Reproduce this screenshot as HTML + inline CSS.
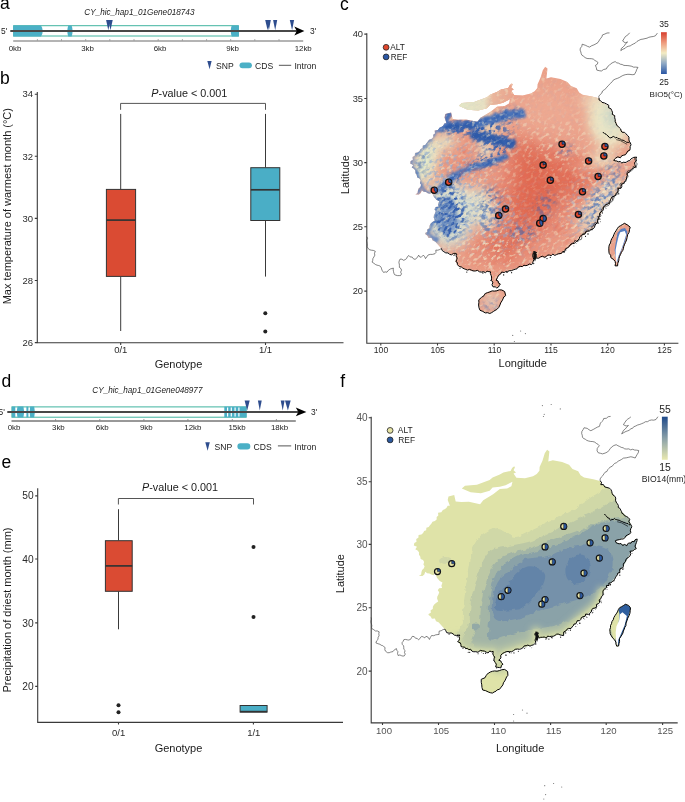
<!DOCTYPE html>
<html><head><meta charset="utf-8">
<style>
html,body{margin:0;padding:0;background:#fff;}
body{width:685px;height:802px;overflow:hidden;}
svg{display:block;font-family:"Liberation Sans",sans-serif;will-change:transform;}
.pl{font-size:17.5px;fill:#000;}
.tk{font-size:9.5px;fill:#2b2b2b;}
.ti{font-size:11px;fill:#1a1a1a;}
.gk{font-size:7.9px;fill:#222;}
.lg{font-size:8.6px;fill:#222;}
.ax{stroke:#3a3a3a;stroke-width:1.1;fill:none;}
</style></head>
<body>
<svg id="fig" width="685" height="802" viewBox="0 0 685 802">
<!-- ============ PANEL A ============ -->
<text class="pl" x="0" y="9.3">a</text>
<text x="84.3" y="15.3" style="font-size:8.2px;font-style:italic;fill:#222">CY_hic_hap1_01Gene018743</text>
<g id="geneA">
<rect x="13.7" y="25.7" width="224.6" height="10.3" fill="none" stroke="#40b4a0" stroke-width="1"/>
<path d="M13.2 25.6 H41 Q44.5 31 41 36.4 H13.2 Z" fill="#4bb0c6"/>
<path d="M68.3 25.6 H71.6 Q73.6 31 71.6 36.4 H68.3 Q66.3 31 68.3 25.6 Z" fill="#4bb0c6"/>
<path d="M231.7 25.6 H238.8 V36.4 H231.7 Q229.8 31 231.7 25.6 Z" fill="#4bb0c6"/>
<line x1="10.3" y1="31" x2="297" y2="31" stroke="#484848" stroke-width="1.8"/>
<path d="M294.3 26.6 L304.4 31 L294.3 35.6 L296.8 31 Z" fill="#000"/>
<g fill="#2e4d8e">
<path d="M106.1 20 H110.5 L108.3 30.2 Z"/><path d="M108.3 20 H112.7 L110.5 30.2 Z"/>
<path d="M265.2 20 H269.6 L267.6 30.2 Z"/><path d="M266.5 20 H270.8 L268.9 30.2 Z"/>
<path d="M273.1 20 H277.2 L275.2 30.2 Z"/>
<path d="M289.8 20 H294.1 L292.1 30.2 Z"/>
</g>
<text x="1" y="34" style="font-size:8.4px;fill:#222">5'</text>
<text x="310" y="34" style="font-size:8.4px;fill:#222">3'</text>
<line x1="13.2" y1="41" x2="303.2" y2="41" stroke="#6a6a6a" stroke-width="1.2"/>
<g stroke="#9a9a9a" stroke-width="0.8">
<line x1="37.4" y1="39" x2="37.4" y2="41"/><line x1="61.5" y1="39" x2="61.5" y2="41"/><line x1="85.7" y1="39" x2="85.7" y2="41"/>
<line x1="109.8" y1="39" x2="109.8" y2="41"/><line x1="134" y1="39" x2="134" y2="41"/><line x1="158.2" y1="39" x2="158.2" y2="41"/>
<line x1="182.4" y1="39" x2="182.4" y2="41"/><line x1="206.6" y1="39" x2="206.6" y2="41"/><line x1="230.7" y1="39" x2="230.7" y2="41"/>
<line x1="254.8" y1="39" x2="254.8" y2="41"/><line x1="279" y1="39" x2="279" y2="41"/>
</g>
<g class="gk" text-anchor="middle">
<text x="15" y="50.6">0kb</text><text x="87.5" y="50.6">3kb</text><text x="160" y="50.6">6kb</text><text x="232.6" y="50.6">9kb</text><text x="303.2" y="50.6">12kb</text>
</g>
<path d="M207.3 61 H211.6 L209.6 69.3 Z" fill="#2e4d8e"/>
<text class="lg" x="216" y="68.6">SNP</text>
<rect x="239.5" y="62.4" width="12.4" height="5.8" rx="2.9" fill="#4bb0c6"/>
<text class="lg" x="255" y="68.6">CDS</text>
<line x1="278.9" y1="65.3" x2="291.2" y2="65.3" stroke="#555" stroke-width="1"/>
<text class="lg" x="294.4" y="68.6">Intron</text>
</g>

<!-- ============ PANEL B ============ -->
<text class="pl" x="0" y="83.5">b</text>
<g class="ax">
<path d="M37.3 92 V342.7 H343.5"/>
<path d="M34.8 94.2 H37.3 M34.8 156.3 H37.3 M34.8 218.4 H37.3 M34.8 280.5 H37.3 M34.8 342.6 H37.3"/>
<path d="M120.7 342.7 V345 M265.5 342.7 V345"/>
</g>
<g class="tk" text-anchor="end">
<text x="33" y="97.4">34</text><text x="33" y="159.5">32</text><text x="33" y="221.6">30</text><text x="33" y="283.7">28</text><text x="33" y="345.8">26</text>
</g>
<text class="ti" transform="translate(10.6,206.2) rotate(-90)" text-anchor="middle">Max temperature of warmest month (°C)</text>
<text x="189.3" y="96.9" text-anchor="middle" style="font-size:10.8px;fill:#1a1a1a"><tspan font-style="italic">P</tspan>-value &lt; 0.001</text>
<path d="M120.6 109.8 V103.4 H265.5 V109.8" stroke="#555" stroke-width="1" fill="none"/>
<g stroke="#3a3a3a" stroke-width="1">
<line x1="120.7" y1="113.9" x2="120.7" y2="189.2"/><line x1="120.7" y1="276.6" x2="120.7" y2="331"/>
<line x1="265.5" y1="113.9" x2="265.5" y2="167.5"/><line x1="265.5" y1="220.6" x2="265.5" y2="276.6"/>
</g>
<rect x="106.4" y="189.4" width="29.2" height="87" fill="#da4b33" stroke="#333" stroke-width="1"/>
<line x1="106.4" y1="220.1" x2="135.6" y2="220.1" stroke="#333" stroke-width="1.7"/>
<rect x="250.8" y="167.7" width="29" height="52.8" fill="#4aaec6" stroke="#333" stroke-width="1"/>
<line x1="250.8" y1="189.8" x2="279.8" y2="189.8" stroke="#333" stroke-width="1.7"/>
<circle cx="265.3" cy="313.3" r="2" fill="#222"/><circle cx="265.3" cy="331.4" r="2" fill="#222"/>
<g class="tk" text-anchor="middle"><text x="120.8" y="353">0/1</text><text x="265.5" y="353">1/1</text></g>
<text class="ti" x="178.5" y="368" text-anchor="middle">Genotype</text>

<!-- ============ PANEL D ============ -->
<text class="pl" x="1.5" y="387">d</text>
<text x="92.3" y="393.4" style="font-size:8.2px;font-style:italic;fill:#222">CY_hic_hap1_01Gene048977</text>
<g id="geneD">
<rect x="11.9" y="406.9" width="234.2" height="10.3" fill="none" stroke="#40b4a0" stroke-width="1"/>
<g fill="#4bb0c6">
<path d="M12 406.6 H15.3 V417.4 H12 Z"/>
<path d="M17.5 406.6 H23.4 Q25 412 23.4 417.4 H17.5 Q15.8 412 17.5 406.6 Z"/>
<path d="M26.4 406.6 H28.4 V417.4 H26.4 Z"/>
<path d="M30.2 406.6 H34.2 Q35.6 412 34.2 417.4 H30.2 Q29 412 30.2 406.6 Z"/>
<path d="M224.3 406.6 H246.5 V417.4 H224.3 Z"/>
</g>
<g stroke="#fff" stroke-width="1.2">
<line x1="227.6" y1="407.4" x2="227.6" y2="416.6"/><line x1="231.3" y1="407.4" x2="231.3" y2="416.6"/><line x1="235.1" y1="407.4" x2="235.1" y2="416.6"/><line x1="238.9" y1="407.4" x2="238.9" y2="416.6"/>
</g>
<line x1="7.3" y1="412" x2="298" y2="412" stroke="#484848" stroke-width="1.8"/>
<path d="M295.8 407.5 L306.4 412 L295.8 416.3 L298.3 412 Z" fill="#000"/>
<g fill="#2e4d8e">
<path d="M244.6 400.4 H249.7 L247.2 410.4 Z"/>
<path d="M257.9 400.4 H261.7 L259.8 410.4 Z"/>
<path d="M280.7 400.4 H284.6 L282.7 410.4 Z"/>
<path d="M285 400.4 H290.7 L287.9 410.4 Z"/>
</g>
<text x="-1.5" y="415" style="font-size:8.4px;fill:#222">5'</text>
<text x="311" y="415" style="font-size:8.4px;fill:#222">3'</text>
<line x1="11.5" y1="421" x2="295.8" y2="421" stroke="#333" stroke-width="1"/>
<g stroke="#888" stroke-width="0.8">
<line x1="55.6" y1="419" x2="55.6" y2="421"/><line x1="99.8" y1="419" x2="99.8" y2="421"/><line x1="143.9" y1="419" x2="143.9" y2="421"/>
<line x1="187.9" y1="419" x2="187.9" y2="421"/><line x1="232.3" y1="419" x2="232.3" y2="421"/><line x1="276.4" y1="419" x2="276.4" y2="421"/>
</g>
<g class="gk" text-anchor="middle">
<text x="14" y="430.2">0kb</text><text x="58.4" y="430.2">3kb</text><text x="102.2" y="430.2">6kb</text><text x="146.3" y="430.2">9kb</text><text x="192.9" y="430.2">12kb</text><text x="237" y="430.2">15kb</text><text x="279.5" y="430.2">18kb</text>
</g>
<path d="M205.3 442.3 H209.8 L207.6 450.8 Z" fill="#2e4d8e"/>
<text class="lg" x="214.5" y="449.6">SNP</text>
<rect x="237.4" y="443.3" width="12.9" height="6.1" rx="3" fill="#4bb0c6"/>
<text class="lg" x="253.5" y="449.6">CDS</text>
<line x1="277.9" y1="445.9" x2="291.2" y2="445.9" stroke="#555" stroke-width="1"/>
<text class="lg" x="294.3" y="449.6">Intron</text>
</g>

<!-- ============ PANEL E ============ -->
<text class="pl" x="1.5" y="468">e</text>
<g class="ax">
<path d="M37.7 488.2 V722.4 H343"/>
<path d="M35.2 495.9 H37.7 M35.2 559 H37.7 M35.2 622.9 H37.7 M35.2 686.4 H37.7"/>
<path d="M118.5 722.4 V724.6 M253.4 722.4 V724.6"/>
</g>
<g class="tk" text-anchor="end" style="font-size:10.2px">
<text x="33.6" y="499.4">50</text><text x="33.6" y="562.6">40</text><text x="33.6" y="626.5">30</text><text x="33.6" y="690">20</text>
</g>
<text class="ti" transform="translate(10.8,610) rotate(-90)" text-anchor="middle">Precipitation of driest month (mm)</text>
<text x="180" y="490.7" text-anchor="middle" style="font-size:10.8px;fill:#1a1a1a"><tspan font-style="italic">P</tspan>-value &lt; 0.001</text>
<path d="M118.4 504.5 V498.5 H253.5 V504.5" stroke="#555" stroke-width="1" fill="none"/>
<g stroke="#3a3a3a" stroke-width="1">
<line x1="118.5" y1="509.2" x2="118.5" y2="540.5"/><line x1="118.5" y1="591.4" x2="118.5" y2="629.3"/>
</g>
<rect x="105.4" y="540.7" width="26.8" height="50.6" fill="#da4b33" stroke="#333" stroke-width="1"/>
<line x1="105.4" y1="565.9" x2="132.2" y2="565.9" stroke="#333" stroke-width="1.7"/>
<rect x="240.1" y="705.5" width="27" height="6.6" fill="#4aaec6" stroke="#333" stroke-width="1"/>
<line x1="240.1" y1="711.6" x2="267.1" y2="711.6" stroke="#333" stroke-width="1.6"/>
<circle cx="118.5" cy="705.3" r="2" fill="#222"/><circle cx="118.5" cy="712.2" r="2" fill="#222"/>
<circle cx="253.5" cy="547" r="2" fill="#222"/><circle cx="253.5" cy="616.9" r="2" fill="#222"/>
<g class="tk" text-anchor="middle"><text x="118.6" y="735.8">0/1</text><text x="253.8" y="735.8">1/1</text></g>
<text class="ti" x="178.5" y="751.6" text-anchor="middle">Genotype</text>


<defs>
<path id="land" d="M444.5 117.5 L445.3 113.9 L451.1 112.4 L452.6 119.0 L458.4 119.7 L466.0 119.4 L477.3 121.8 L480.5 117.8 L490.5 111.7 L497.3 106.5 L504.6 106.0 L509.0 103.5 L510.1 99.1 L503.1 102.7 L497.3 104.2 L490.0 105.0 L487.0 108.2 L478.1 110.6 L467.7 109.8 L458.8 105.8 L462.0 103.0 L474.1 102.1 L487.0 97.3 L490.0 94.7 L497.3 91.8 L500.9 89.6 L508.2 88.1 L509.7 85.2 L511.9 83.4 L512.6 84.5 L511.2 87.4 L513.7 89.6 L511.2 90.7 L514.1 95.1 L522.8 95.4 L530.9 93.6 L534.7 91.2 L537.4 88.0 L537.6 84.2 L540.5 77.8 L542.8 70.2 L545.2 66.7 L547.5 68.4 L546.4 78.4 L551.0 77.2 L560.4 79.0 L567.4 81.9 L570.9 86.0 L576.7 88.3 L579.1 92.4 L582.6 94.7 L591.9 96.5 L598.9 98.2 L599.9 101.4 L604.0 103.5 L608.0 105.8 L612.3 112.3 L615.3 119.6 L618.2 126.9 L624.0 132.8 L628.4 137.2 L629.9 143.0 L629.9 150.3 L625.5 154.7 L618.2 157.6 L614.0 159.5 L618.2 162.0 L625.5 163.4 L632.8 159.1 L635.7 157.0 L635.0 166.4 L630.0 170.0 L627.2 175.8 L624.2 181.7 L619.1 189.0 L614.0 196.3 L609.6 201.4 L603.8 207.2 L600.9 213.8 L598.0 221.1 L593.6 226.9 L586.3 232.8 L579.0 238.6 L570.2 245.9 L562.9 251.8 L561.8 254.1 L553.0 254.8 L544.2 257.0 L536.9 257.7 L534.0 251.9 L533.3 261.4 L529.6 265.0 L522.3 266.5 L515.0 268.7 L509.2 270.9 L503.8 271.8 L500.4 273.8 L498.5 275.3 L496.8 279.6 L500.3 284.0 L498.5 287.1 L493.7 286.6 L492.4 282.3 L491.1 277.0 L490.6 271.8 L483.6 271.8 L477.5 271.0 L473.0 271.0 L465.7 269.6 L458.4 265.9 L455.5 261.5 L456.9 254.2 L451.6 254.2 L444.3 251.3 L441.4 248.4 L435.2 241.6 L432.7 240.5 L431.5 237.7 L428.5 238.1 L427.3 235.6 L425.1 234.1 L425.1 233.1 L427.4 232.0 L427.2 229.4 L429.4 228.2 L429.5 225.9 L430.6 223.7 L432.6 222.0 L434.9 220.4 L433.8 217.8 L433.9 215.6 L435.1 213.3 L435.9 211.1 L434.5 209.2 L435.8 207.1 L438.8 206.7 L438.1 204.6 L439.2 201.2 L436.4 199.8 L434.9 198.0 L433.6 196.3 L432.8 194.3 L431.8 191.2 L430.2 193.8 L427.8 193.2 L426.0 192.0 L423.7 191.8 L421.8 190.4 L420.8 193.1 L418.9 194.6 L415.3 194.5 L417.6 193.1 L417.9 190.7 L418.6 188.5 L420.4 186.9 L421.1 184.8 L419.9 183.0 L420.6 180.4 L419.5 178.5 L417.1 177.3 L416.7 174.8 L415.4 173.0 L415.4 170.5 L414.0 168.8 L411.7 167.4 L413.4 164.9 L410.2 163.6 L410.7 161.1 L412.9 160.0 L412.6 157.0 L414.8 155.8 L415.0 153.0 L417.9 152.6 L419.6 151.1 L420.6 149.1 L422.7 148.3 L422.9 145.6 L425.3 145.0 L426.5 143.3 L427.9 141.6 L429.1 139.7 L431.5 138.9 L433.3 137.3 L433.3 134.8 L435.0 133.4 L434.7 130.5 L438.0 129.9 L439.6 127.8 L441.4 127.0 L443.2 125.8 L444.5 123.5 L446.7 123.4 Z"/>
<path id="hain" d="M485.4 293.2 L489.8 291.5 L496.8 290.6 L502.0 289.7 L505.1 291.5 L505.5 295.4 L502.9 298.9 L500.3 305.0 L496.8 309.4 L489.8 313.3 L485.4 312.5 L480.1 310.3 L478.8 305.0 L478.8 299.8 L481.9 297.6 Z"/>
<path id="taiw" d="M624.7 223.2 L627.5 224.5 L629.9 227.0 L628.8 232.2 L626.9 237.4 L624.7 244.9 L621.7 252.4 L618.7 258.4 L617.6 265.8 L615.3 265.8 L615.0 261.4 L611.2 257.6 L608.6 250.9 L609.3 244.9 L612.0 238.9 L615.0 232.9 L618.7 227.0 L622.4 224.7 Z"/>
<clipPath id="clipC"><use href="#land"/><use href="#hain"/><use href="#taiw"/></clipPath>
<filter id="b1" x="-50%" y="-50%" width="200%" height="200%"><feGaussianBlur stdDeviation="0.8"/></filter>
<filter id="disp" x="-10%" y="-10%" width="120%" height="120%"><feTurbulence type="fractalNoise" baseFrequency="0.18" numOctaves="2" seed="3" result="t"/><feDisplacementMap in="SourceGraphic" in2="t" scale="5" xChannelSelector="R" yChannelSelector="G"/></filter>
<filter id="disp2" x="-20%" y="-20%" width="140%" height="140%"><feTurbulence type="fractalNoise" baseFrequency="0.25" numOctaves="2" seed="8" result="t"/><feDisplacementMap in="SourceGraphic" in2="t" scale="6" xChannelSelector="R" yChannelSelector="G" result="d"/><feGaussianBlur in="d" stdDeviation="0.9"/></filter>
<filter id="b2" x="-50%" y="-50%" width="200%" height="200%"><feGaussianBlur stdDeviation="1.5"/></filter>
<filter id="b3" x="-50%" y="-50%" width="200%" height="200%"><feGaussianBlur stdDeviation="3"/></filter>
<filter id="b6" x="-50%" y="-50%" width="200%" height="200%"><feGaussianBlur stdDeviation="6"/></filter>
<filter id="b10" x="-50%" y="-50%" width="200%" height="200%"><feGaussianBlur stdDeviation="10"/></filter>
</defs>

<g clip-path="url(#clipC)">
<defs>
<filter id="nzP" filterUnits="userSpaceOnUse" color-interpolation-filters="sRGB" x="300" y="-60" width="460" height="480"><feTurbulence type="fractalNoise" baseFrequency="0.22 0.34" numOctaves="3" seed="11"/><feColorMatrix type="matrix" values="0 0 0 0 0.941 0 0 0 0 0.894 0 0 0 0 0.776 5 0 0 0 -2.6"/></filter>
<filter id="nzB" filterUnits="userSpaceOnUse" color-interpolation-filters="sRGB" x="300" y="-60" width="460" height="480"><feTurbulence type="fractalNoise" baseFrequency="0.22 0.32" numOctaves="3" seed="23"/><feColorMatrix type="matrix" values="0 0 0 0 0.208 0 0 0 0 0.376 0 0 0 0 0.682 5 0 0 0 -2.3"/></filter>
<filter id="nzL" filterUnits="userSpaceOnUse" color-interpolation-filters="sRGB" x="300" y="-60" width="460" height="480"><feTurbulence type="fractalNoise" baseFrequency="0.24 0.34" numOctaves="3" seed="37"/><feColorMatrix type="matrix" values="0 0 0 0 0.557 0 0 0 0 0.667 0 0 0 0 0.824 5 0 0 0 -2.5"/></filter>
<filter id="nzR" filterUnits="userSpaceOnUse" color-interpolation-filters="sRGB" x="300" y="-60" width="460" height="480"><feTurbulence type="fractalNoise" baseFrequency="0.08 0.25" numOctaves="2" seed="51"/><feColorMatrix type="matrix" values="0 0 0 0 0.886 0 0 0 0 0.416 0 0 0 0 0.333 4 0 0 0 -2.0"/></filter>
<mask id="mP" maskUnits="userSpaceOnUse" x="380" y="40" width="290" height="300"><rect x="380" y="40" width="290" height="300" fill="#777"/><g filter="url(#b10)"><ellipse cx="535" cy="190" rx="24" ry="40" transform="rotate(20 535 190)" fill="#333"/><ellipse cx="565" cy="180" rx="26" ry="10" transform="rotate(25 565 180)" fill="#444"/><ellipse cx="560" cy="105" rx="35" ry="18" fill="#222"/><ellipse cx="600" cy="205" rx="16" ry="38" transform="rotate(35 600 205)" fill="#fff"/><ellipse cx="500" cy="250" rx="32" ry="14" fill="#eee"/><ellipse cx="480" cy="210" rx="16" ry="26" transform="rotate(-20 480 210)" fill="#fff"/><ellipse cx="465" cy="160" rx="18" ry="12" transform="rotate(-35 465 160)" fill="#666"/><ellipse cx="440" cy="235" rx="15" ry="15" fill="#ccc"/><ellipse cx="615" cy="175" rx="12" ry="12" fill="#eee"/><ellipse cx="555" cy="150" rx="14" ry="8" transform="rotate(20 555 150)" fill="#eee"/><ellipse cx="430" cy="165" rx="14" ry="28" transform="rotate(15 430 165)" fill="#bbb"/></g></mask>
<mask id="mB" maskUnits="userSpaceOnUse" x="380" y="40" width="290" height="300"><rect x="380" y="40" width="290" height="300" fill="#000"/><g filter="url(#b3)"><ellipse cx="449" cy="214" rx="18" ry="26" fill="#fff"/><ellipse cx="485" cy="163" rx="20" ry="5" transform="rotate(-15 485 163)" fill="#fff"/><ellipse cx="452" cy="180" rx="14" ry="5" transform="rotate(-40 452 180)" fill="#fff"/><ellipse cx="493" cy="140" rx="24" ry="9" transform="rotate(15 493 140)" fill="#fff"/><ellipse cx="470" cy="127" rx="30" ry="8" transform="rotate(-5 470 127)" fill="#fff"/><ellipse cx="508" cy="116" rx="14" ry="6" transform="rotate(-15 508 116)" fill="#eee"/><ellipse cx="492" cy="155" rx="16" ry="5" transform="rotate(-10 492 155)" fill="#ddd"/><ellipse cx="505" cy="128" rx="12" ry="5" fill="#bbb"/><ellipse cx="600" cy="200" rx="10" ry="30" transform="rotate(35 600 200)" fill="#999"/><ellipse cx="490" cy="210" rx="14" ry="24" fill="#999"/><ellipse cx="565" cy="150" rx="10" ry="5" fill="#888"/><ellipse cx="613" cy="172" rx="10" ry="8" fill="#888"/><ellipse cx="522" cy="232" rx="14" ry="10" fill="#888"/><ellipse cx="545" cy="205" rx="10" ry="14" transform="rotate(30 545 205)" fill="#777"/><ellipse cx="590" cy="225" rx="10" ry="8" fill="#777"/><ellipse cx="420" cy="165" rx="6" ry="26" transform="rotate(15 420 165)" fill="#888"/><ellipse cx="491" cy="304" rx="7" ry="4" transform="rotate(-20 491 304)" fill="#bbb"/></g></mask>
<mask id="mL" maskUnits="userSpaceOnUse" x="380" y="40" width="290" height="300"><rect x="380" y="40" width="290" height="300" fill="#111"/><g filter="url(#b10)"><ellipse cx="455" cy="195" rx="30" ry="50" fill="#bbb"/><ellipse cx="595" cy="200" rx="18" ry="40" transform="rotate(35 595 200)" fill="#bbb"/><ellipse cx="500" cy="220" rx="20" ry="25" fill="#bbb"/><ellipse cx="425" cy="160" rx="12" ry="25" fill="#bbb"/><ellipse cx="520" cy="235" rx="20" ry="10" fill="#888"/></g></mask>
<mask id="mR" maskUnits="userSpaceOnUse" x="380" y="40" width="290" height="300"><rect x="380" y="40" width="290" height="300" fill="#000"/><g filter="url(#b10)"><ellipse cx="535" cy="192" rx="26" ry="44" transform="rotate(20 535 192)" fill="#fff"/><ellipse cx="565" cy="180" rx="28" ry="12" transform="rotate(25 565 180)" fill="#fff"/><ellipse cx="500" cy="245" rx="30" ry="14" fill="#aaa"/><ellipse cx="465" cy="160" rx="18" ry="12" transform="rotate(-35 465 160)" fill="#bbb"/><ellipse cx="560" cy="230" rx="20" ry="12" fill="#aaa"/></g></mask>
</defs>
<rect x="400" y="60" width="245" height="260" fill="#eba18a"/>
<g filter="url(#b10)"><ellipse cx="548" cy="112" rx="38" ry="22" fill="#eda891"/><ellipse cx="530" cy="200" rx="45" ry="60" transform="rotate(20 530 200)" fill="#e8907a"/><ellipse cx="575" cy="185" rx="30" ry="18" transform="rotate(25 575 185)" fill="#e8907a"/><ellipse cx="500" cy="250" rx="40" ry="18" fill="#e8927c"/><ellipse cx="466" cy="160" rx="20" ry="14" transform="rotate(-35 466 160)" fill="#e8907a"/><ellipse cx="448" cy="170" rx="16" ry="10" transform="rotate(-30 448 170)" fill="#e9957e"/></g>
<g filter="url(#b10)" fill="#e0674f"><ellipse cx="535" cy="192" rx="24" ry="42" transform="rotate(20 535 192)"/><ellipse cx="565" cy="180" rx="26" ry="11" transform="rotate(25 565 180)"/><ellipse cx="522" cy="155" rx="11" ry="18"/><ellipse cx="505" cy="245" rx="18" ry="11"/><ellipse cx="548" cy="170" rx="10" ry="8"/></g>
<g filter="url(#b6)"><ellipse cx="610" cy="118" rx="22" ry="30" fill="#ebe7c6"/><ellipse cx="614" cy="114" rx="8" ry="16" fill="#c3d1c6"/><ellipse cx="603" cy="160" rx="14" ry="10" fill="#edd2b4"/><ellipse cx="590" cy="100" rx="10" ry="6" fill="#efd9bc"/></g>
<g filter="url(#b6)"><ellipse cx="425" cy="162" rx="12" ry="24" transform="rotate(15 425 162)" fill="#e4ebca"/><ellipse cx="474" cy="105" rx="17" ry="5" transform="rotate(-8 474 105)" fill="#e4e6c4"/><ellipse cx="488" cy="129" rx="14" ry="4" transform="rotate(-10 488 129)" fill="#e9e4c2"/><ellipse cx="487" cy="119" rx="10" ry="3" transform="rotate(-15 487 119)" fill="#e6e2c4"/><ellipse cx="482" cy="208" rx="12" ry="22" transform="rotate(-20 482 208)" fill="#e5dfc6"/><ellipse cx="600" cy="205" rx="13" ry="34" transform="rotate(35 600 205)" fill="#e9cfb6"/><ellipse cx="492" cy="300" rx="7" ry="6" fill="#eedcc0"/><ellipse cx="449" cy="214" rx="26" ry="34" fill="#d6dcce"/><ellipse cx="445" cy="142" rx="10" ry="8" fill="#e6e2c4"/><ellipse cx="485" cy="150" rx="8" ry="10" fill="#e3dcc4"/><ellipse cx="491" cy="304" rx="6" ry="4" transform="rotate(-20 491 304)" fill="#c9d2d2"/></g>
<g filter="url(#b3)" fill="#e47a62"><ellipse cx="594" cy="177" rx="15" ry="3.5" transform="rotate(-28 594 177)"/><ellipse cx="575" cy="160" rx="10" ry="3" transform="rotate(-20 575 160)"/></g>
<defs><linearGradient id="slg" gradientUnits="userSpaceOnUse" x1="459" y1="0" x2="514" y2="0"><stop offset="0" stop-color="#e2e6c6"/><stop offset="0.45" stop-color="#e6dfc2"/><stop offset="0.62" stop-color="#eab59b"/><stop offset="1" stop-color="#eba38b"/></linearGradient></defs>
<path d="M510.1 99.1 L503.1 102.7 L497.3 104.2 L490.0 105.0 L487.0 108.2 L478.1 110.6 L467.7 109.8 L458.8 105.8 L462.0 103.0 L474.1 102.1 L487.0 97.3 L490.0 94.7 L497.3 91.8 L500.9 89.6 L508.2 88.1 L509.7 85.2 L511.9 83.4 L512.6 84.5 L511.2 87.4 L513.7 89.6 L511.2 90.7 L514.1 95.1 Z" fill="url(#slg)" stroke="url(#slg)" stroke-width="1.5"/>
<g filter="url(#disp2)" fill="none" stroke-linecap="round" stroke-linejoin="round"><path d="M440 127 L456 126 L474 125 L488 121 L509 114 L521 114" stroke-width="9" stroke="#4a72b8"/><path d="M448 126 L470 127" stroke-width="6" stroke="#2f5aa8"/><path d="M474 135 L494 139 L512 144" stroke-width="9" stroke="#2f5aa8"/><path d="M468 168 L485 164 L505 157" stroke-width="6" stroke="#4a73b8"/><path d="M470 168 L455 176 L440 189" stroke-width="7" stroke="#4f78bc"/><path d="M449 114 L447 121" stroke-width="6" stroke="#4a72b8"/></g>
<g filter="url(#disp2)" fill="#4c75b9" opacity="0.75"><ellipse cx="447" cy="216" rx="11" ry="19"/></g>
<g mask="url(#mR)"><rect x="300" y="-60" width="460" height="480" filter="url(#nzR)" transform="rotate(-35 520 190)"/></g>
<g mask="url(#mP)"><rect x="300" y="-60" width="460" height="480" filter="url(#nzP)" transform="rotate(-35 520 190)"/></g>
<g mask="url(#mL)"><rect x="300" y="-60" width="460" height="480" filter="url(#nzL)" transform="rotate(-35 520 190)"/></g>
<g mask="url(#mB)"><rect x="300" y="-60" width="460" height="480" filter="url(#nzB)" transform="rotate(-35 520 190)"/></g>
<g filter="url(#disp2)" fill="none" stroke-linecap="round" stroke-linejoin="round" opacity="0.85"><path d="M446 123 L437 130 L426 143 L416 154 L411 161 L413 168 L419 179 L421 185 L425 192 L432 196 L436 205 L432 222 L428 233 L437 241" stroke-width="4" stroke="#5a80c0"/><path d="M421 186 L417 194" stroke-width="3" stroke="#5a80c0"/></g>
<path d="M617.5 233 L621 229 L625 228 L627.5 232 L625.5 240 L622.5 248 L619.5 255.5 L617 263 L615.6 257 L614.6 250 L615.6 243 Z" fill="#5a80c0"/>
<path d="M620.2 232.2 L624.7 231.1 L626.2 234.4 L623.9 241.9 L621.7 248.6 L618.7 255.4 L616.4 262.9 L615.7 256.9 L615.6 250.1 L616.9 243.4 L618.7 235.9 Z" fill="#fff"/>
<path d="M613.5 236 L616 231 L619.5 227.5" fill="none" stroke="#eadcc0" stroke-width="1.3"/>
</g>
<g fill="none" stroke="#000" stroke-width="1">
<path d="M599.1 98.1 L599.0 99.9 L600.4 100.5 L602.0 102.4 L604.4 102.9 L606.4 103.9 L608.8 105.3 L608.6 107.8 L610.8 108.6 L611.7 110.4 L612.5 112.2 L612.3 114.4 L614.7 115.6 L614.7 117.7 L615.2 119.6 L615.2 121.7 L616.1 123.5 L616.7 125.4 L618.5 126.6 L619.5 127.9 L620.7 129.0 L621.1 131.0 L622.1 132.3 L624.5 132.3 L626.0 133.8 L627.4 135.3 L629.0 137.1 L628.9 139.1 L629.2 141.1 L630.4 143.0 L631.0 144.8 L630.1 146.7 L630.2 148.5 L629.8 150.2 L627.7 151.1 L626.7 152.9 L625.5 154.7 L623.6 155.2 L621.7 155.8 L620.4 157.8 L617.8 156.8 L615.8 158.0 L613.6 160.2 L615.1 160.9 L616.9 161.0 L618.2 161.8 L620.2 161.5 L621.8 163.0 L623.9 162.1 L625.0 162.6 L626.6 162.0 L628.0 161.0 L629.7 160.5 L630.8 159.1 L632.2 158.2 L633.8 157.4 L636.6 157.1 L635.9 158.9 L636.5 160.8 L634.5 162.6 L634.9 164.5 L635.5 167.0 L633.7 168.0 L631.9 169.1 L630.3 170.1 L630.0 171.8 L627.9 172.6 L626.9 173.9 L627.3 175.8 L626.5 177.3 L626.5 179.2 L625.7 180.6 L624.5 181.9 L623.6 183.5 L621.6 184.2 L621.8 186.5 L621.0 188.1 L618.3 188.4 L618.0 190.4 L617.7 192.4 L616.0 193.3 L615.9 195.4 L614.0 196.3 L612.1 196.9 L611.2 198.3 L610.4 199.8 L610.0 201.8 L608.6 202.8 L607.8 204.2 L605.7 204.5 L604.9 206.0 L603.2 207.0 L603.4 209.0 L602.9 210.7 L601.0 211.9 L599.9 213.4 L599.5 215.3 L598.8 217.2 L598.1 219.0 L597.6 220.8 L597.4 222.9 L595.8 224.0 L595.0 225.6 L594.3 227.7 L592.8 228.9 L591.0 229.6 L589.6 230.9 L587.5 231.3 L585.7 232.0 L584.9 234.1 L582.8 234.4 L581.3 235.4 L579.8 236.7 L579.2 238.8 L578.1 240.1 L576.9 241.1 L575.7 242.2 L574.4 243.3 L572.5 243.6 L570.9 244.2 L569.7 245.3 L568.8 247.1 L567.1 248.0 L565.4 248.9 L564.9 251.3 L562.6 251.6 L561.7 253.2 L560.0 253.6 L558.2 253.8 L556.5 254.6 L554.8 255.4 L552.8 254.2 L551.3 255.6 L549.3 255.0 L547.5 255.1 L546.0 256.8 L544.2 257.2 L542.3 256.2 L540.5 256.9 L538.8 258.2 L536.2 258.1 L535.5 256.6 L536.2 254.4 L535.3 253.0 L534.8 252.0 L533.1 253.7 L532.7 255.6 L533.2 257.6 L533.8 259.5 L533.2 261.3 L532.6 263.2 L531.6 264.6 L529.4 264.0 L527.7 265.1 L525.9 265.7 L523.9 265.2 L522.3 266.6 L520.2 266.3 L518.4 266.9 L517.0 268.8 L515.2 269.2 L513.2 269.9 L511.3 270.7 L509.2 270.7 L507.5 271.7 L505.6 271.7 L504.2 272.5 L501.6 272.0 L500.6 274.1 L498.6 275.3 L497.5 277.4 L496.1 280.2 L498.1 281.0 L498.4 283.1 L500.3 284.0 L499.3 285.5 L498.5 287.0 L496.8 288.0 L495.3 286.9 L493.0 286.8 L492.0 284.8 L493.0 282.1 L491.3 280.7 L491.5 278.8 L491.6 277.0 L491.1 275.3 L490.4 273.6 L490.6 271.8 L488.9 271.7 L487.1 271.2 L485.4 272.7 L483.6 271.7 L481.5 272.1 L479.5 271.8 L477.5 270.4 L475.2 271.0 L473.0 270.9 L471.3 270.1 L469.5 269.4 L467.5 270.1 L465.8 269.4 L464.2 268.8 L462.8 268.1 L461.5 267.0 L459.8 266.7 L458.5 265.9 L457.4 264.5 L457.3 262.4 L455.9 261.6 L456.7 259.8 L457.2 258.0 L456.0 255.9 L456.9 254.1 L455.1 253.2 L453.4 253.5 L451.3 254.9 L449.5 254.2 L447.9 252.9 L445.8 252.9 L443.9 251.7 L442.2 250.5 L441.4 248.4"/>
<path d="M485.5 293.4 L487.7 292.6 L489.9 291.9 L492.1 290.9 L494.5 291.1 L496.8 290.8 L499.3 289.8 L501.8 290.0 L504.6 291.5 L505.7 295.6 L503.8 296.9 L503.0 298.9 L502.0 300.9 L500.7 302.8 L500.0 304.8 L498.8 307.4 L496.8 309.5 L495.0 310.4 L493.4 311.5 L491.7 312.6 L489.8 313.5 L487.6 312.7 L485.2 312.9 L482.8 311.4 L480.0 310.3 L479.0 307.8 L478.6 305.0 L478.9 302.4 L478.8 299.8 L481.6 297.3 L484.0 295.7 L485.4 293.2"/>
<path d="M624.6 223.4 L627.2 224.8 L630.2 227.1 L629.5 229.6 L629.1 232.3 L627.6 234.7 L627.1 237.5 L626.5 240.0 L625.5 242.4 L624.4 244.8 L623.7 246.7 L623.4 248.7 L622.7 250.6 L621.4 252.3 L620.6 254.4 L619.6 256.3 L619.0 258.4 L618.7 260.9 L617.8 263.3 L617.6 265.9 L615.0 265.8 L615.5 263.6 L615.1 261.3 L613.3 259.3 L610.9 257.7 L610.6 255.3 L609.1 253.3 L608.9 250.9 L608.8 248.9 L608.9 246.9 L609.3 244.9 L610.5 243.0 L610.9 240.8 L611.7 238.8 L613.0 236.9 L613.8 234.8 L614.7 232.7 L616.0 230.8 L617.2 228.8 L618.6 226.8 L620.5 225.7 L622.3 224.6 L624.7 223.2"/>
<path d="M602.8 132.5 L604.1 132.9 L605.0 133.8 L606.2 134.3 L607.0 135.3 L608.1 136.0 L608.9 137.0 L609.4 137.6 L610.9 137.9 L612.0 137.2 L613.3 136.4 L614.4 137.0 L615.5 137.8 L617.0 137.4 L618.0 138.6 L619.3 138.7 L620.5 139.2 L621.7 140.1 L623.1 140.2 L624.4 140.9 L625.6 141.6 L626.7 142.3 L628.2 142.3 L629.3 142.9"/><path d="M616.2 139.6 L620.5 140.7 L627.1 144.3" stroke-width="0.6"/>
</g>
<path d="M634.2 156.9 L634.7 158.3 L634.9 159.6 L635.8 161.1 L636.0 162.4 L637.2 163.9 L636.7 165.2 L636.1 167.9 L633.1 166.4 L633.1 169.1 L632.1 170.3 L631.6 170.8 L627.9 170.8 L627.1 172.2 L627.2 174.0 L628.1 176.2 L627.6 177.5 L626.8 178.6 L625.6 179.4 L626.1 181.2 L624.4 181.8 L624.2 183.5 L620.8 183.0 L619.9 184.2 L620.6 186.4 L620.9 188.4 L617.4 187.8 L618.9 190.7 L617.9 191.8 L618.3 193.9 L616.1 194.2 L614.9 195.1 L614.0 196.3 L614.1 198.2 L612.2 198.3 L613.0 200.8 L611.3 201.1 L610.9 202.7 L608.9 202.7 L609.1 204.8 L608.2 205.8 L606.3 205.9 L605.6 207.1 L603.5 207.0 L603.1 208.5 L601.6 209.4 L601.4 210.9 L600.6 212.1 L599.3 213.2 L600.9 215.2 L600.6 216.5 L597.5 216.7 L600.4 219.2 L597.6 219.5 L597.5 220.7 L598.7 223.5 L595.1 222.5 L594.0 223.5 L594.0 225.4 L593.0 226.1 L591.7 226.7 L592.5 229.8 L590.4 229.3 L589.4 230.3 L587.5 230.0 L586.5 230.9 L585.4 231.7 L585.0 233.3 L583.1 233.1 L582.7 234.7 L581.6 235.4 L581.8 237.9 L581.3 239.4 L580.0 239.8 L578.3 240.0 L577.9 241.8 L574.8 240.2 L574.4 242.1 L573.1 242.7 L572.0 243.6 L570.8 244.4 L570.2 245.9" fill="none" stroke="#111" stroke-width="0.6"/>
<g fill="#111"><circle cx="618.8" cy="193.8" r="0.61"/><circle cx="612.9" cy="199.5" r="0.57"/><circle cx="609.3" cy="203.6" r="0.72"/><circle cx="602.4" cy="212.9" r="0.60"/><circle cx="606.0" cy="208.2" r="0.43"/><circle cx="600.3" cy="221.8" r="0.47"/><circle cx="588.0" cy="234.0" r="0.74"/><circle cx="591.7" cy="229.9" r="0.41"/><circle cx="585.3" cy="236.0" r="0.35"/><circle cx="585.5" cy="236.4" r="0.54"/><circle cx="576.1" cy="243.7" r="0.37"/><circle cx="573.9" cy="245.9" r="0.36"/><circle cx="566.5" cy="249.9" r="0.37"/><circle cx="564.0" cy="252.4" r="0.65"/><circle cx="550.3" cy="257.3" r="0.66"/><circle cx="547.0" cy="258.6" r="0.69"/><circle cx="544.9" cy="257.8" r="0.49"/><circle cx="532.6" cy="253.1" r="0.47"/><circle cx="535.5" cy="257.1" r="0.41"/><circle cx="536.5" cy="252.6" r="0.56"/><circle cx="533.7" cy="263.6" r="0.68"/><circle cx="529.7" cy="267.5" r="0.36"/><circle cx="511.6" cy="272.7" r="0.60"/><circle cx="507.0" cy="272.3" r="0.69"/><circle cx="503.6" cy="274.9" r="0.69"/><circle cx="490.8" cy="280.4" r="0.50"/><circle cx="482.9" cy="273.0" r="0.66"/><circle cx="466.8" cy="272.1" r="0.63"/><circle cx="460.0" cy="268.2" r="0.54"/><circle cx="454.9" cy="254.2" r="0.58"/><circle cx="454.0" cy="255.5" r="0.62"/>
<path d="M533.3 251 L535.6 251.2 L536.8 256.5 L535 261.5 L533.4 258 Z"/></g>
<g fill="none" stroke="#333" stroke-width="0.6">
<path d="M366.9 236.7 L367.6 238.3 L366.7 240.1 L366.9 241.7 L367.2 243.4 L367.3 245.1 L367.2 246.7 L367.8 247.9 L369.3 249.7 L371.4 250.2 L373.3 250.4 L375.3 251.3 L374.5 253.2 L374.8 255.2 L373.9 257.0 L372.9 258.6 L372.7 260.5 L372.1 262.1 L373.9 263.3 L375.6 264.6 L377.1 265.2 L378.6 265.5 L379.9 266.0 L381.1 267.2 L381.6 268.8 L382.0 270.2 L383.5 272.4 L385.2 271.9 L387.0 272.2 L388.4 270.3 L390.3 269.0 L393.4 268.1 L393.2 269.9 L393.5 271.5 L393.9 273.2 L394.5 274.6 L395.9 275.2 L397.5 275.6 L399.2 275.6 L400.5 275.6 L401.5 273.9 L400.6 272.1 L401.5 270.2 L401.0 268.7 L399.4 267.4 L399.4 265.7 L399.3 264.0 L398.9 262.8 L399.2 260.9 L400.1 259.1 L401.9 259.2 L403.6 260.3 L405.1 259.7 L406.6 258.5 L407.4 256.7 L408.9 255.5 L410.1 256.9 L412.2 257.1 L413.3 258.7 L415.0 259.4 L416.5 258.4 L417.5 257.0 L418.7 255.2 L419.6 256.8 L421.2 257.3 L423.3 255.1 L424.7 256.7 L425.5 258.6 L426.8 256.8 L428.2 254.9 L430.3 254.4 L432.4 254.4 L435.0 253.7 L436.0 252.4 L435.8 250.1 L437.9 250.2 L439.8 249.5 L441.4 248.4"/>
<path d="M609.5 32.9 L607.0 33.0 L604.9 34.0 L602.5 34.9 L601.9 36.8 L600.8 38.2 L599.7 39.7 L598.0 42.5 L596.0 43.8 L593.9 44.9 L591.7 45.7 L589.6 47.1 L587.6 46.4 L585.7 45.4 L582.2 44.2 L581.8 46.4 L580.4 48.1 L580.1 50.1 L580.8 51.9 L581.2 53.7 L581.9 55.2 L583.6 56.3 L585.1 57.6 L587.1 58.5 L589.2 58.6 L591.4 58.7 L593.3 59.1 L594.8 60.4 L596.6 61.4 L598.0 62.5 L597.2 64.3 L595.4 65.4 L596.3 67.6 L596.8 70.1 L599.2 70.7 L601.4 71.0 L603.6 69.5 L606.4 68.9 L607.4 66.8 L609.1 65.5 L610.6 63.9 L612.9 62.5 L615.2 61.6 L616.7 62.8 L618.7 63.2 L620.3 64.2 L622.2 64.5 L623.9 65.4 L625.9 65.5 L627.9 65.6 L629.9 65.9 L631.8 66.3 L633.7 67.2 L635.7 67.1 L638.0 67.4 L636.7 69.5 L636.0 71.6 L634.4 74.5 L632.2 74.7 L630.0 74.4 L627.9 74.3 L625.2 74.7 L622.8 75.5 L621.0 76.5 L619.2 77.6 L617.3 78.4 L615.2 79.1 L613.2 80.2 L612.1 81.8 L610.8 83.1 L609.4 84.4 L608.2 85.8 L606.9 87.1 L605.8 88.6 L604.4 89.7 L602.5 91.0 L601.8 93.1 L600.2 94.5 L598.8 96.2 L598.9 98.2"/>
<path d="M629.6 32.8 L628.4 34.4 L626.9 35.5 L625.4 36.5 L624.0 38.7 L622.6 41.0 L625.2 42.8 L627.6 42.0 L625.7 43.6 L624.3 45.8 L623.0 47.1 L621.4 48.4 L620.8 50.6 L622.9 49.2 L625.2 48.3 L626.5 46.9 L628.3 46.3 L630.2 45.9 L631.7 44.9 L633.3 44.0 L635.3 43.1 L636.9 41.5 L638.8 40.4 L640.9 39.4 L643.0 39.1 L645.0 38.6 L647.0 38.2 L648.8 37.3 L651.0 36.8 L653.3 36.5 L655.4 35.8 L657.4 33.1"/>
</g>
<circle cx="562" cy="144.3" r="3.1" fill="#e0472e" stroke="#111" stroke-width="1.3"/><path d="M562 144.3 L562.00 141.20 A3.1 3.1 0 0 1 565.10 144.30 Z" fill="#2d58a6" stroke="#111" stroke-width="0.6"/>
<circle cx="604.9" cy="146.5" r="3.1" fill="#e0472e" stroke="#111" stroke-width="1.3"/><path d="M604.9 146.5 L604.90 143.40 A3.1 3.1 0 0 1 608.00 146.50 Z" fill="#2d58a6" stroke="#111" stroke-width="0.6"/>
<circle cx="603.8" cy="156" r="3.1" fill="#e0472e" stroke="#111" stroke-width="1.3"/><path d="M603.8 156 L603.80 152.90 A3.1 3.1 0 0 1 606.90 156.00 Z" fill="#2d58a6" stroke="#111" stroke-width="0.6"/>
<circle cx="588.6" cy="161" r="3.1" fill="#e0472e" stroke="#111" stroke-width="1.3"/><path d="M588.6 161 L588.60 157.90 A3.1 3.1 0 0 1 591.70 161.00 Z" fill="#2d58a6" stroke="#111" stroke-width="0.6"/>
<circle cx="543.1" cy="165.1" r="3.1" fill="#e0472e" stroke="#111" stroke-width="1.3"/><path d="M543.1 165.1 L543.10 162.00 A3.1 3.1 0 0 1 545.90 163.78 Z" fill="#2d58a6" stroke="#111" stroke-width="0.6"/>
<circle cx="598.1" cy="176.5" r="3.1" fill="#e0472e" stroke="#111" stroke-width="1.3"/><path d="M598.1 176.5 L598.10 173.40 A3.1 3.1 0 0 1 601.20 176.50 Z" fill="#2d58a6" stroke="#111" stroke-width="0.6"/>
<circle cx="550.3" cy="180.3" r="3.1" fill="#e0472e" stroke="#111" stroke-width="1.3"/><path d="M550.3 180.3 L550.30 177.20 A3.1 3.1 0 0 1 553.40 180.30 Z" fill="#2d58a6" stroke="#111" stroke-width="0.6"/>
<circle cx="582.5" cy="191.7" r="3.1" fill="#e0472e" stroke="#111" stroke-width="1.3"/><path d="M582.5 191.7 L582.50 188.60 A3.1 3.1 0 0 1 585.60 191.70 Z" fill="#2d58a6" stroke="#111" stroke-width="0.6"/>
<circle cx="434.2" cy="190.2" r="3.1" fill="#e0472e" stroke="#111" stroke-width="1.3"/><path d="M434.2 190.2 L434.20 187.10 A3.1 3.1 0 0 1 436.02 192.71 Z" fill="#2d58a6" stroke="#111" stroke-width="0.6"/>
<circle cx="448.6" cy="182.2" r="3.1" fill="#e0472e" stroke="#111" stroke-width="1.3"/><path d="M448.6 182.2 L448.60 179.10 A3.1 3.1 0 0 1 451.55 183.16 Z" fill="#2d58a6" stroke="#111" stroke-width="0.6"/>
<circle cx="505.5" cy="209.1" r="3.1" fill="#e0472e" stroke="#111" stroke-width="1.3"/><path d="M505.5 209.1 L505.50 206.00 A3.1 3.1 0 0 1 508.55 208.52 Z" fill="#2d58a6" stroke="#111" stroke-width="0.6"/>
<circle cx="498.7" cy="215.6" r="3.1" fill="#e0472e" stroke="#111" stroke-width="1.3"/><path d="M498.7 215.6 L498.70 212.50 A3.1 3.1 0 0 1 501.21 217.42 Z" fill="#2d58a6" stroke="#111" stroke-width="0.6"/>
<circle cx="543.1" cy="218.6" r="3.1" fill="#e0472e" stroke="#111" stroke-width="1.3"/><path d="M543.1 218.6 L543.10 215.50 A3.1 3.1 0 0 1 543.10 221.70 Z" fill="#2d58a6" stroke="#111" stroke-width="0.6"/>
<circle cx="539.7" cy="223.2" r="3.1" fill="#e0472e" stroke="#111" stroke-width="1.3"/><path d="M539.7 223.2 L539.70 220.10 A3.1 3.1 0 0 1 541.19 225.92 Z" fill="#2d58a6" stroke="#111" stroke-width="0.6"/>
<circle cx="578.4" cy="214.5" r="3.1" fill="#e0472e" stroke="#111" stroke-width="1.3"/><path d="M578.4 214.5 L578.40 211.40 A3.1 3.1 0 0 1 581.50 214.50 Z" fill="#2d58a6" stroke="#111" stroke-width="0.6"/>
<g class="ax"><path d="M366.8 33.2 V343.2 H678.4"/>
<path d="M364.3 34.1 H366.8 M364.3 98.5 H366.8 M364.3 162.6 H366.8 M364.3 226.7 H366.8 M364.3 291.1 H366.8"/>
<path d="M380.8 343.2 V345.4 M437.5 343.2 V345.4 M494.2 343.2 V345.4 M551 343.2 V345.4 M607.7 343.2 V345.4 M664.4 343.2 V345.4"/></g>
<g class="tk" text-anchor="end" style="font-size:9.3px"><text x="363" y="37.4">40</text><text x="363" y="101.8">35</text><text x="363" y="165.9">30</text><text x="363" y="230">25</text><text x="363" y="294.4">20</text></g>
<g class="tk" text-anchor="middle" style="font-size:8.6px"><text x="381" y="353">100</text><text x="437.7" y="353">105</text><text x="494.5" y="353">110</text><text x="551" y="353">115</text><text x="607.5" y="353">120</text><text x="664.5" y="353">125</text></g>
<text class="ti" x="522.7" y="366.6" text-anchor="middle">Longitude</text>
<text class="ti" transform="translate(349,174.6) rotate(-90)" text-anchor="middle">Latitude</text>
<text class="pl" x="340" y="9.6">c</text>
<circle cx="386.1" cy="47.3" r="2.9" fill="#e0472e" stroke="#222" stroke-width="0.8"/>
<circle cx="386.1" cy="56.9" r="2.9" fill="#2d58a6" stroke="#222" stroke-width="0.8"/>
<text x="390.3" y="50.1" style="font-size:8.3px;fill:#222">ALT</text>
<text x="390.8" y="59.7" style="font-size:8.3px;fill:#222">REF</text>
<defs><linearGradient id="cbc" x1="0" y1="0" x2="0" y2="1">
<stop offset="0" stop-color="#d73f2e"/><stop offset="0.25" stop-color="#ee9a7c"/><stop offset="0.5" stop-color="#f3ecc4"/><stop offset="0.75" stop-color="#8ea8c4"/><stop offset="1" stop-color="#2a56a4"/></linearGradient></defs>
<rect x="661" y="32.2" width="5.8" height="41.8" fill="url(#cbc)"/>
<g style="font-size:8.6px;fill:#222" text-anchor="middle"><text x="664" y="27.4">35</text><text x="664" y="85">25</text></g>
<text x="666" y="97.3" text-anchor="middle" style="font-size:8.1px;fill:#222">BIO5(°C)</text>

<defs><clipPath id="clipF"><use href="#land" transform="matrix(0.9873,0,0,0.986,8.84,384.08)"/><use href="#hain" transform="matrix(0.9873,0,0,0.986,8.84,384.08)"/><use href="#taiw" transform="matrix(0.9873,0,0,0.986,8.84,384.08)"/></clipPath></defs>
<g clip-path="url(#clipF)">
<rect x="390" y="440" width="260" height="260" fill="#dfe3a8"/>
<g filter="url(#disp)">
<path d="M462.8 655.0 C439.4 649.2 462.7 628.3 462.8 620.0 C462.9 611.7 463.1 611.1 463.7 605.1 C464.3 599.1 465.3 590.5 466.3 584.1 C467.3 577.7 468.9 571.9 469.8 566.6 C470.7 561.4 470.3 557.0 471.5 552.6 C472.7 548.2 474.5 543.5 476.8 540.3 C479.1 537.1 482.0 535.3 485.5 533.3 C489.0 531.2 494.3 528.1 497.8 528.0 C501.3 527.9 504.0 530.9 506.6 532.4 C509.2 533.9 511.0 536.4 513.6 536.8 C516.2 537.2 519.1 536.2 522.3 535.0 C525.5 533.8 529.1 531.7 532.9 529.8 C536.7 527.9 540.6 525.9 545.1 523.7 C549.6 521.5 555.0 519.2 560.0 516.6 C565.0 514.0 570.0 511.1 575.0 508.0 C580.0 504.9 585.3 501.0 590.0 498.0 C594.7 495.0 599.3 492.2 603.0 490.0 C606.7 487.8 605.8 486.7 612.0 485.0 C618.2 483.3 635.3 462.5 640.0 480.0 C644.7 497.5 645.7 570.3 640.0 590.0 C634.3 609.7 612.2 587.2 606.0 598.0 C599.8 608.8 626.9 645.5 603.0 655.0 C579.1 664.5 486.2 660.8 462.8 655.0 Z" fill="#d0d8a7"/>
<path d="M469.8 655.0 C447.6 649.2 469.5 629.5 469.8 620.0 C470.1 610.5 470.3 605.0 471.5 598.1 C472.7 591.2 475.1 584.6 476.8 578.8 C478.6 573.0 479.7 567.8 482.0 563.1 C484.3 558.4 487.3 553.4 490.8 550.8 C494.3 548.2 499.0 548.3 503.1 547.3 C507.2 546.3 510.6 545.7 515.3 544.7 C520.0 543.7 526.1 542.8 531.1 541.2 C536.1 539.6 540.3 537.2 545.1 535.0 C549.9 532.8 554.2 530.8 560.0 528.0 C565.8 525.2 573.3 521.3 580.0 518.0 C586.7 514.7 594.2 511.0 600.0 508.0 C605.8 505.0 608.3 502.2 615.0 500.0 C621.7 497.8 635.8 480.0 640.0 495.0 C644.2 510.0 645.7 572.8 640.0 590.0 C634.3 607.2 612.2 587.2 606.0 598.0 C599.8 608.8 625.7 645.5 603.0 655.0 C580.3 664.5 492.0 660.8 469.8 655.0 Z" fill="#bcc8a5"/>
<path d="M480.3 650.0 C460.4 645.0 480.0 628.6 480.3 620.0 C480.6 611.4 480.8 605.0 482.0 598.1 C483.2 591.2 485.5 584.0 487.3 578.8 C489.1 573.5 490.3 570.1 492.6 566.6 C494.9 563.1 497.8 560.1 501.3 557.8 C504.8 555.5 509.2 554.0 513.6 552.6 C518.0 551.2 522.9 550.6 527.6 549.1 C532.3 547.6 536.2 545.8 541.6 543.8 C547.0 541.8 553.6 539.1 560.0 536.8 C566.4 534.5 573.3 532.5 580.0 530.0 C586.7 527.5 593.3 524.0 600.0 522.0 C606.7 520.0 613.3 518.3 620.0 518.0 C626.7 517.7 636.7 508.0 640.0 520.0 C643.3 532.0 645.7 577.0 640.0 590.0 C634.3 603.0 612.7 588.0 606.0 598.0 C599.3 608.0 621.0 641.3 600.0 650.0 C579.0 658.7 500.2 655.0 480.3 650.0 Z" fill="#a3b5a6"/>
<path d="M489.1 640.0 C486.5 637.3 489.1 626.4 489.1 620.0 C489.1 613.6 488.5 607.9 489.1 601.6 C489.7 595.3 490.9 587.8 492.6 582.3 C494.4 576.8 496.7 572.1 499.6 568.3 C502.5 564.5 506.6 561.9 510.1 559.6 C513.6 557.3 516.8 555.5 520.6 554.3 C524.4 553.1 528.8 553.5 532.9 552.6 C537.0 551.7 540.6 550.6 545.1 549.1 C549.6 547.6 555.0 546.0 560.0 543.8 C565.0 541.6 570.0 538.6 575.0 536.0 C580.0 533.4 585.0 530.3 590.0 528.0 C595.0 525.7 599.2 523.0 605.0 522.0 C610.8 521.0 619.2 519.0 625.0 522.0 C630.8 525.0 640.0 530.3 640.0 540.0 C640.0 549.7 630.8 570.3 625.0 580.0 C619.2 589.7 611.7 592.7 605.0 598.0 C598.3 603.3 592.5 607.7 585.0 612.0 C577.5 616.3 569.2 621.0 560.0 624.0 C550.8 627.0 539.2 628.0 530.0 630.0 C520.8 632.0 511.8 634.3 505.0 636.0 C498.2 637.7 491.8 642.7 489.1 640.0 Z" fill="#8aa2a8"/>
<path d="M492.6 614.0 C491.4 610.2 491.7 603.4 492.6 598.1 C493.5 592.8 495.5 586.4 497.8 582.3 C500.1 578.2 503.7 576.2 506.6 573.6 C509.5 571.0 512.4 568.9 515.3 566.6 C518.2 564.3 520.9 561.1 524.1 559.6 C527.3 558.1 530.5 558.4 534.6 557.8 C538.7 557.2 544.0 557.3 548.6 556.0 C553.2 554.7 557.1 551.7 562.0 550.0 C566.9 548.3 572.3 546.7 578.0 546.0 C583.7 545.3 590.7 545.0 596.0 546.0 C601.3 547.0 607.3 548.3 610.0 552.0 C612.7 555.7 613.3 562.3 612.0 568.0 C610.7 573.7 606.5 581.2 602.0 586.0 C597.5 590.8 591.7 594.0 585.0 597.0 C578.3 600.0 569.5 601.8 562.0 604.0 C554.5 606.2 547.0 607.7 540.0 610.0 C533.0 612.3 526.7 616.2 520.0 618.0 C513.3 619.8 504.6 621.7 500.0 621.0 C495.4 620.3 493.8 617.8 492.6 614.0 Z" fill="#7591aa"/>
<path d="M496.0 605.1 C496.3 602.2 497.2 596.7 499.6 592.9 C502.0 589.1 507.2 585.5 510.1 582.3 C513.0 579.1 514.2 576.2 517.1 573.6 C520.0 571.0 524.1 567.5 527.6 566.6 C531.1 565.7 535.2 566.8 538.1 568.3 C541.0 569.8 544.5 572.1 545.1 575.3 C545.7 578.5 543.6 583.8 541.6 587.6 C539.6 591.4 536.4 594.6 532.9 598.1 C529.4 601.6 525.0 606.6 520.6 608.6 C516.2 610.6 510.4 610.1 506.6 610.4 C502.8 610.7 499.6 611.3 497.8 610.4 C496.0 609.5 495.7 608.0 496.0 605.1 Z" fill="#6384a8"/>
<ellipse cx="578" cy="569" rx="12" ry="15" transform="rotate(25 578 569)" fill="#6384a8"/>
<ellipse cx="475.5" cy="627" rx="3.5" ry="3.5" fill="#93a9a6"/>
<ellipse cx="446" cy="561" rx="7" ry="4" fill="#d0d7a8"/>
</g>
<path d="M605.0 588.4 L602.1 594.9 L599.2 602.1 L594.9 607.8 L587.7 613.6 L580.5 619.3 L571.8 626.5 L564.6 632.4 L563.5 634.6 L554.8 635.3 L546.1 637.5 L538.9 638.2 L536.1 632.5 L535.4 641.8 L531.7 645.4 L524.5 646.8 L517.3 649.0 L511.6 651.2 L506.2 652.1 L502.9 654.0 L501.0 655.5 L499.3 659.8 L502.8 664.1 L501.0 667.2 L496.3 666.7 L495.0 662.4 L493.7 657.2 L493.2 652.1 L486.3 652.1 L480.3 651.3 L475.8 651.3 L468.6 649.9 L461.4 646.3 L458.6 641.9 L459.9 634.7" fill="none" stroke="#c0cba5" stroke-width="12" stroke-linejoin="round" filter="url(#b3)"/>
<path d="M605.0 588.4 L602.1 594.9 L599.2 602.1 L594.9 607.8 L587.7 613.6 L580.5 619.3 L571.8 626.5 L564.6 632.4 L563.5 634.6 L554.8 635.3 L546.1 637.5 L538.9 638.2 L536.1 632.5 L535.4 641.8 L531.7 645.4 L524.5 646.8 L517.3 649.0 L511.6 651.2 L506.2 652.1 L502.9 654.0 L501.0 655.5 L499.3 659.8 L502.8 664.1 L501.0 667.2 L496.3 666.7 L495.0 662.4 L493.7 657.2 L493.2 652.1 L486.3 652.1 L480.3 651.3 L475.8 651.3 L468.6 649.9 L461.4 646.3 L458.6 641.9 L459.9 634.7" fill="none" stroke="#d0d8a7" stroke-width="5" stroke-linejoin="round" filter="url(#b2)"/>
<path d="M618.5 609.5 L621 606 L625.8 603.8 L631 608.1 L629 614 L627 622 L623.5 632 L620.5 639 L618.5 646.5 L615.5 641 L617 630 L619 620 L619.5 614 Z" fill="#2f5f9f"/>
<path d="M622.4 612.2 L626.9 615.9 L624.7 624.9 L620.9 633.9 L618.3 639.9 L617.9 646.2 L616.1 641.4 L615.7 632.4 L616.4 626.4 L619.1 620.4 L619.8 614.4 Z" fill="#fff"/>
</g>
<g transform="matrix(0.9873,0,0,0.986,8.84,384.08)">
<g fill="none" stroke="#000" stroke-width="1">
<path d="M598.8 98.2 L600.4 99.5 L599.6 102.0 L602.2 101.9 L603.5 104.3 L605.8 104.9 L608.4 105.6 L609.8 107.0 L610.6 108.7 L611.0 110.8 L611.9 112.5 L613.8 113.8 L614.7 115.6 L614.5 117.8 L615.1 119.7 L616.3 121.3 L617.3 123.0 L617.3 125.2 L619.0 126.1 L619.7 127.8 L620.6 129.2 L621.0 131.1 L622.6 131.8 L623.4 133.4 L625.5 134.2 L627.3 135.3 L628.9 137.1 L627.9 139.4 L629.0 141.2 L630.3 143.0 L631.0 144.8 L629.9 146.7 L629.5 148.5 L630.0 150.4 L628.8 152.1 L626.7 153.0 L625.2 153.8 L623.9 156.0 L622.2 157.1 L620.2 157.2 L618.3 157.8 L615.9 158.2 L614.3 158.9 L615.1 160.9 L616.5 161.6 L618.2 162.0 L620.1 161.7 L621.7 163.7 L623.8 162.6 L625.9 164.0 L626.7 162.0 L628.1 161.2 L630.2 161.3 L631.1 159.6 L633.4 159.9 L634.2 158.0 L636.4 157.1 L636.2 158.9 L635.6 160.8 L634.9 162.6 L634.2 164.4 L635.5 167.0 L633.5 167.8 L632.0 169.3 L629.1 169.5 L630.0 171.8 L629.5 173.3 L628.8 174.8 L627.4 175.9 L625.7 176.9 L624.9 178.4 L624.5 180.0 L623.3 181.1 L622.4 182.6 L622.5 184.8 L621.7 186.5 L619.3 187.0 L618.7 188.7 L618.9 191.0 L616.8 191.7 L616.3 193.5 L615.2 195.0 L614.3 196.5 L613.5 198.1 L612.6 199.6 L611.1 200.4 L609.8 201.6 L607.7 201.9 L607.9 204.3 L605.4 204.2 L605.4 206.5 L604.1 207.3 L602.4 208.6 L601.7 210.2 L601.8 212.2 L601.8 214.2 L600.2 215.6 L599.7 217.6 L597.9 218.9 L598.5 221.5 L597.1 222.7 L595.1 223.5 L595.5 226.1 L593.7 227.1 L591.7 227.5 L590.3 228.8 L589.9 231.2 L588.4 232.4 L586.9 233.6 L584.3 233.2 L583.7 235.5 L581.6 235.9 L579.9 236.8 L579.2 238.9 L578.1 240.0 L575.8 239.9 L575.1 241.5 L574.3 243.2 L572.4 243.4 L571.7 245.2 L570.5 246.3 L569.4 247.9 L566.9 247.8 L565.2 248.7 L564.2 250.4 L562.0 251.4 L561.9 255.1 L560.1 254.8 L558.3 254.4 L556.4 253.5 L554.7 253.7 L553.1 255.0 L551.4 255.8 L549.5 255.8 L547.7 256.1 L545.7 255.6 L544.3 257.7 L542.3 256.5 L540.5 256.8 L538.7 256.8 L537.4 257.4 L536.4 256.1 L535.1 255.0 L534.4 253.5 L534.3 251.9 L533.2 253.8 L534.6 255.8 L534.2 257.6 L532.9 259.5 L533.7 261.8 L532.7 263.3 L531.5 264.5 L529.6 264.9 L527.9 265.8 L525.7 264.7 L524.0 265.3 L522.0 265.5 L520.6 267.5 L518.9 268.5 L517.1 269.0 L515.0 268.7 L512.9 269.0 L511.2 270.3 L509.3 271.5 L507.4 271.4 L505.6 271.2 L503.6 271.5 L501.8 272.3 L499.9 273.2 L498.2 275.2 L498.4 277.8 L496.2 280.1 L498.3 280.8 L499.0 282.6 L500.5 284.1 L498.9 285.3 L498.4 287.8 L496.8 287.5 L495.2 287.3 L493.0 286.8 L493.9 284.2 L492.6 282.3 L491.6 280.6 L491.3 278.8 L492.2 276.9 L490.9 275.3 L490.2 273.6 L490.6 271.1 L488.9 271.5 L487.1 270.7 L485.4 272.7 L483.6 271.9 L481.7 270.8 L479.6 270.5 L477.5 270.1 L475.2 272.0 L472.9 271.4 L471.0 271.5 L469.2 271.0 L467.7 268.9 L465.8 269.4 L464.7 268.0 L462.7 268.4 L461.7 266.7 L459.8 266.7 L458.0 266.2 L457.9 264.1 L457.3 262.4 L454.6 261.3 L456.1 259.7 L456.5 257.9 L455.9 255.9 L456.9 254.5 L455.1 255.0 L453.4 254.9 L451.4 254.7 L449.9 253.3 L448.1 252.4 L445.9 252.6 L443.5 252.1 L442.6 250.1 L441.4 248.4"/>
<path d="M485.5 293.4 L487.5 292.1 L489.8 291.3 L492.1 290.9 L494.5 291.2 L496.8 290.6 L499.3 289.7 L502.2 289.4 L505.2 291.5 L505.5 295.4 L504.1 297.1 L503.3 299.1 L502.3 301.1 L501.0 302.9 L500.4 305.1 L498.7 307.3 L496.9 309.6 L494.8 310.0 L493.4 311.5 L491.5 312.3 L489.8 313.4 L487.6 313.0 L485.5 312.2 L482.9 310.9 L480.0 310.3 L479.2 307.7 L479.0 305.0 L478.5 302.4 L478.5 299.4 L482.2 297.9 L483.6 295.4 L485.4 293.2"/>
<path d="M624.6 223.4 L627.6 224.4 L629.6 226.9 L629.4 229.6 L629.1 232.3 L628.2 234.9 L626.9 237.4 L626.1 239.9 L625.1 242.3 L625.0 245.0 L623.9 246.7 L623.3 248.7 L622.4 250.5 L622.0 252.5 L620.9 254.5 L619.7 256.4 L618.4 258.3 L618.6 260.9 L618.0 263.3 L617.6 265.6 L615.7 265.8 L614.9 263.6 L614.8 261.6 L613.4 259.2 L611.6 257.5 L610.3 255.4 L609.1 253.3 L608.9 250.9 L608.7 248.9 L609.4 246.9 L609.4 244.9 L610.4 243.0 L610.9 240.8 L612.2 239.0 L612.8 236.8 L613.9 234.9 L615.2 233.0 L616.5 231.1 L617.3 228.8 L618.6 226.8 L620.5 225.8 L622.4 224.7 L624.7 223.2"/>
<path d="M603.1 132.2 L604.2 132.7 L605.1 133.6 L605.8 134.7 L606.6 135.7 L608.1 136.0 L608.7 137.2 L609.7 138.3 L610.6 137.2 L612.1 137.5 L613.3 136.3 L614.4 137.2 L615.7 137.5 L616.9 137.9 L618.2 138.1 L619.3 138.7 L620.5 139.3 L621.8 139.7 L623.0 140.4 L624.4 140.8 L625.7 141.3 L627.1 141.5 L628.1 142.5 L629.3 142.9"/><path d="M616.2 139.6 L620.5 140.7 L627.1 144.3" stroke-width="0.6"/>
</g>
<g fill="#111"><circle cx="618.8" cy="193.8" r="0.61"/><circle cx="612.9" cy="199.5" r="0.57"/><circle cx="609.3" cy="203.6" r="0.72"/><circle cx="602.4" cy="212.9" r="0.60"/><circle cx="606.0" cy="208.2" r="0.43"/><circle cx="600.3" cy="221.8" r="0.47"/><circle cx="588.0" cy="234.0" r="0.74"/><circle cx="591.7" cy="229.9" r="0.41"/><circle cx="585.3" cy="236.0" r="0.35"/><circle cx="585.5" cy="236.4" r="0.54"/><circle cx="576.1" cy="243.7" r="0.37"/><circle cx="573.9" cy="245.9" r="0.36"/><circle cx="566.5" cy="249.9" r="0.37"/><circle cx="564.0" cy="252.4" r="0.65"/><circle cx="550.3" cy="257.3" r="0.66"/><circle cx="547.0" cy="258.6" r="0.69"/><circle cx="544.9" cy="257.8" r="0.49"/><circle cx="532.6" cy="253.1" r="0.47"/><circle cx="535.5" cy="257.1" r="0.41"/><circle cx="536.5" cy="252.6" r="0.56"/><circle cx="533.7" cy="263.6" r="0.68"/><circle cx="529.7" cy="267.5" r="0.36"/><circle cx="511.6" cy="272.7" r="0.60"/><circle cx="507.0" cy="272.3" r="0.69"/><circle cx="503.6" cy="274.9" r="0.69"/><circle cx="490.8" cy="280.4" r="0.50"/><circle cx="482.9" cy="273.0" r="0.66"/><circle cx="466.8" cy="272.1" r="0.63"/><circle cx="460.0" cy="268.2" r="0.54"/><circle cx="454.9" cy="254.2" r="0.58"/><circle cx="454.0" cy="255.5" r="0.62"/>
<path d="M533.3 251 L535.6 251.2 L536.8 256.5 L535 261.5 L533.4 258 Z"/></g>
<g fill="none" stroke="#333" stroke-width="0.6">
<path d="M366.9 236.7 L367.3 238.4 L366.8 240.1 L366.8 241.7 L367.3 243.4 L367.7 245.0 L367.4 246.7 L367.7 248.0 L369.6 249.1 L371.3 250.4 L373.3 250.4 L375.1 251.3 L374.7 253.2 L375.0 255.2 L374.0 257.0 L373.9 259.0 L372.5 260.4 L371.8 262.5 L373.8 263.3 L375.9 263.9 L377.2 264.9 L378.7 265.3 L379.6 266.1 L381.1 267.2 L380.8 269.1 L381.4 270.8 L383.5 272.4 L385.2 272.5 L386.8 271.8 L389.1 271.3 L390.5 269.5 L392.6 268.3 L392.9 269.9 L394.1 271.4 L393.7 273.2 L394.3 275.3 L396.1 274.7 L397.5 275.4 L399.2 275.9 L400.6 275.6 L401.5 273.9 L400.7 272.1 L401.4 270.3 L400.1 269.0 L400.0 267.2 L399.9 265.5 L398.6 264.2 L398.2 262.4 L399.3 261.0 L400.1 259.2 L401.9 259.0 L403.7 259.4 L405.1 259.6 L407.0 258.8 L407.9 257.1 L408.6 255.9 L410.6 256.1 L411.8 257.7 L413.7 258.0 L415.0 259.4 L416.3 258.2 L417.2 256.7 L418.3 255.9 L419.8 256.5 L421.3 257.4 L422.5 255.8 L424.6 256.7 L426.0 259.0 L427.0 256.9 L428.2 255.0 L430.4 255.2 L432.4 254.3 L435.8 253.9 L435.7 252.3 L435.9 250.5 L437.9 250.2 L439.6 249.1 L441.4 248.4"/>
<path d="M609.5 32.8 L607.1 33.1 L605.2 34.7 L602.5 34.9 L601.9 36.8 L600.6 38.1 L599.2 39.5 L598.2 42.9 L596.0 43.7 L593.9 44.9 L592.0 46.0 L589.5 47.3 L587.6 46.3 L585.8 44.9 L582.6 44.3 L581.6 46.3 L580.4 48.1 L580.2 50.1 L580.8 51.9 L581.0 53.8 L582.0 55.1 L583.8 55.9 L585.4 57.1 L587.1 57.7 L589.3 58.2 L591.5 58.3 L593.5 58.9 L595.1 60.2 L596.9 61.2 L598.1 62.6 L596.9 64.0 L596.0 65.2 L595.8 67.7 L597.0 69.7 L599.3 70.2 L601.3 70.8 L603.9 70.0 L606.4 68.9 L607.8 67.3 L609.1 65.5 L610.6 63.8 L612.8 62.3 L615.2 61.5 L616.9 62.5 L618.7 63.3 L620.3 64.2 L622.2 64.6 L623.8 65.7 L625.8 65.9 L627.9 65.7 L629.8 66.7 L631.9 66.1 L633.8 66.9 L635.7 67.0 L638.0 67.4 L637.5 69.7 L636.2 71.7 L634.4 75.0 L632.2 74.2 L630.0 73.7 L627.9 74.2 L625.3 74.8 L622.5 75.1 L620.8 76.3 L619.0 77.3 L617.2 78.2 L615.5 79.7 L613.5 80.5 L612.2 81.9 L611.1 83.4 L609.1 84.1 L607.9 85.5 L606.6 86.8 L605.8 88.6 L603.9 89.4 L602.7 91.1 L601.6 92.9 L600.0 94.4 L598.9 96.2 L598.9 98.2"/>
<path d="M630.0 33.3 L628.5 34.5 L626.9 35.5 L625.6 36.6 L624.0 38.8 L622.5 41.2 L625.2 42.5 L627.6 42.0 L625.8 43.7 L624.2 45.7 L622.6 46.9 L621.7 48.6 L620.7 50.5 L622.9 49.2 L625.1 48.0 L626.9 47.4 L628.6 46.8 L629.8 45.3 L631.7 44.9 L632.9 43.3 L635.0 42.5 L636.9 41.5 L639.1 40.9 L641.1 40.1 L643.0 39.3 L644.8 38.2 L647.0 38.1 L648.8 36.9 L650.9 36.4 L653.3 36.6 L655.5 35.9 L657.4 33.1"/>
</g>
<g fill="#111"><circle cx="631.7" cy="171.8" r="0.35"/><circle cx="622.9" cy="186.8" r="0.37"/><circle cx="621.9" cy="187.8" r="0.64"/><circle cx="618.7" cy="191.3" r="0.55"/><circle cx="606.0" cy="206.4" r="0.47"/><circle cx="604.7" cy="208.3" r="0.43"/><circle cx="599.6" cy="220.1" r="0.70"/><circle cx="597.7" cy="224.3" r="0.36"/><circle cx="594.8" cy="227.0" r="0.59"/><circle cx="590.9" cy="232.2" r="0.43"/><circle cx="594.1" cy="228.8" r="0.36"/><circle cx="591.5" cy="231.7" r="0.52"/><circle cx="582.2" cy="237.3" r="0.58"/><circle cx="583.4" cy="238.3" r="0.37"/><circle cx="578.3" cy="242.6" r="0.75"/><circle cx="574.4" cy="245.7" r="0.44"/><circle cx="568.8" cy="249.6" r="0.59"/><circle cx="558.9" cy="256.7" r="0.58"/><circle cx="544.8" cy="258.7" r="0.36"/><circle cx="549.5" cy="256.9" r="0.53"/><circle cx="543.7" cy="259.0" r="0.39"/><circle cx="532.6" cy="254.2" r="0.55"/><circle cx="535.0" cy="259.0" r="0.44"/><circle cx="536.1" cy="255.6" r="0.50"/><circle cx="523.7" cy="267.5" r="0.37"/><circle cx="516.1" cy="271.0" r="0.59"/><circle cx="522.2" cy="267.8" r="0.51"/><circle cx="508.7" cy="272.8" r="0.40"/><circle cx="503.0" cy="274.7" r="0.38"/><circle cx="494.1" cy="287.8" r="0.64"/><circle cx="490.3" cy="273.6" r="0.42"/><circle cx="478.7" cy="272.4" r="0.36"/><circle cx="480.6" cy="273.2" r="0.51"/><circle cx="475.3" cy="273.5" r="0.56"/><circle cx="465.3" cy="272.0" r="0.57"/><circle cx="454.7" cy="256.5" r="0.47"/><circle cx="445.9" cy="253.7" r="0.55"/></g>
</g>
<circle cx="563.7" cy="526.4" r="3.0" fill="#e6e3a4" stroke="#111" stroke-width="1.2"/><path d="M563.7 526.4 L563.70 523.36 A3.0 3.0 0 0 1 563.70 529.36 Z" fill="#2d5aa0" stroke="#111" stroke-width="0.5"/>
<circle cx="606.1" cy="528.5" r="3.0" fill="#e6e3a4" stroke="#111" stroke-width="1.2"/><path d="M606.1 528.5 L606.06 525.53 A3.0 3.0 0 0 1 606.06 531.53 Z" fill="#2d5aa0" stroke="#111" stroke-width="0.5"/>
<circle cx="605.0" cy="537.9" r="3.0" fill="#e6e3a4" stroke="#111" stroke-width="1.2"/><path d="M605.0 537.9 L604.97 534.90 A3.0 3.0 0 0 1 604.97 540.90 Z" fill="#2d5aa0" stroke="#111" stroke-width="0.5"/>
<circle cx="590.0" cy="542.8" r="3.0" fill="#e6e3a4" stroke="#111" stroke-width="1.2"/><path d="M590.0 542.8 L589.96 539.83 A3.0 3.0 0 0 1 589.96 545.83 Z" fill="#2d5aa0" stroke="#111" stroke-width="0.5"/>
<circle cx="545.0" cy="546.9" r="3.0" fill="#e6e3a4" stroke="#111" stroke-width="1.2"/><path d="M545.0 546.9 L545.04 543.87 A3.0 3.0 0 0 1 545.04 549.87 Z" fill="#2d5aa0" stroke="#111" stroke-width="0.5"/>
<circle cx="599.3" cy="558.1" r="3.0" fill="#e6e3a4" stroke="#111" stroke-width="1.2"/><path d="M599.3 558.1 L599.34 555.11 A3.0 3.0 0 0 1 599.34 561.11 Z" fill="#2d5aa0" stroke="#111" stroke-width="0.5"/>
<circle cx="552.2" cy="561.9" r="3.0" fill="#e6e3a4" stroke="#111" stroke-width="1.2"/><path d="M552.2 561.9 L552.15 558.86 A3.0 3.0 0 0 1 552.15 564.86 Z" fill="#2d5aa0" stroke="#111" stroke-width="0.5"/>
<circle cx="583.9" cy="573.1" r="3.0" fill="#e6e3a4" stroke="#111" stroke-width="1.2"/><path d="M583.9 573.1 L583.94 570.10 A3.0 3.0 0 0 1 583.94 576.10 Z" fill="#2d5aa0" stroke="#111" stroke-width="0.5"/>
<circle cx="437.5" cy="571.6" r="3.0" fill="#e6e3a4" stroke="#111" stroke-width="1.2"/><path d="M437.5 571.6 L437.53 568.62 A3.0 3.0 0 0 1 440.53 571.62 Z" fill="#2d5aa0" stroke="#111" stroke-width="0.5"/>
<circle cx="451.7" cy="563.7" r="3.0" fill="#e6e3a4" stroke="#111" stroke-width="1.2"/><path d="M451.7 563.7 L451.74 560.73 A3.0 3.0 0 0 1 454.74 563.73 Z" fill="#2d5aa0" stroke="#111" stroke-width="0.5"/>
<circle cx="507.9" cy="590.3" r="3.0" fill="#e6e3a4" stroke="#111" stroke-width="1.2"/><path d="M507.9 590.3 L507.92 587.25 A3.0 3.0 0 0 1 507.92 593.25 Z" fill="#2d5aa0" stroke="#111" stroke-width="0.5"/>
<circle cx="501.2" cy="596.7" r="3.0" fill="#e6e3a4" stroke="#111" stroke-width="1.2"/><path d="M501.2 596.7 L501.21 593.66 A3.0 3.0 0 0 1 501.21 599.66 Z" fill="#2d5aa0" stroke="#111" stroke-width="0.5"/>
<circle cx="545.0" cy="599.6" r="3.0" fill="#e6e3a4" stroke="#111" stroke-width="1.2"/><path d="M545.0 599.6 L545.04 596.62 A3.0 3.0 0 0 1 545.04 602.62 Z" fill="#2d5aa0" stroke="#111" stroke-width="0.5"/>
<circle cx="541.7" cy="604.2" r="3.0" fill="#e6e3a4" stroke="#111" stroke-width="1.2"/><path d="M541.7 604.2 L541.69 601.16 A3.0 3.0 0 0 1 541.69 607.16 Z" fill="#2d5aa0" stroke="#111" stroke-width="0.5"/>
<circle cx="579.9" cy="595.6" r="3.0" fill="#e6e3a4" stroke="#111" stroke-width="1.2"/><path d="M579.9 595.6 L579.89 592.58 A3.0 3.0 0 0 1 579.89 598.58 Z" fill="#2d5aa0" stroke="#111" stroke-width="0.5"/>
<g class="ax"><path d="M371.2 416.7 V722.9 H677.7"/>
<path d="M368.7 417.7 H371.2 M368.7 481.8 H371.2 M368.7 544.4 H371.2 M368.7 607.7 H371.2 M368.7 671.1 H371.2"/>
<path d="M382.5 722.9 V725.1 M438.5 722.9 V725.1 M494.5 722.9 V725.1 M550.6 722.9 V725.1 M606.2 722.9 V725.1 M662.6 722.9 V725.1"/></g>
<g class="tk" text-anchor="end" style="font-size:10px;fill:#555"><text x="367.6" y="421.2">40</text><text x="367.6" y="485.3">35</text><text x="367.6" y="547.9">30</text><text x="367.6" y="611.2">25</text><text x="367.6" y="674.6">20</text></g>
<g class="tk" text-anchor="middle" style="font-size:9.6px;fill:#555"><text x="384" y="734.4">100</text><text x="441.2" y="734.4">105</text><text x="498.4" y="734.4">110</text><text x="553.7" y="734.4">115</text><text x="608.6" y="734.4">120</text><text x="665.2" y="734.4">125</text></g>
<text class="ti" x="520.2" y="751.6" text-anchor="middle">Longitude</text>
<text class="ti" transform="translate(343.5,573.6) rotate(-90)" text-anchor="middle">Latitude</text>
<text class="pl" x="340.3" y="387">f</text>
<circle cx="390.1" cy="430.4" r="2.9" fill="#e6e3a4" stroke="#222" stroke-width="0.8"/>
<circle cx="390.1" cy="439.9" r="2.9" fill="#2d5aa0" stroke="#222" stroke-width="0.8"/>
<text x="397.8" y="433.4" style="font-size:8.4px;fill:#222">ALT</text>
<text x="398.3" y="443" style="font-size:8.4px;fill:#222">REF</text>
<defs><linearGradient id="cbf" x1="0" y1="0" x2="0" y2="1">
<stop offset="0" stop-color="#1f4a8a"/><stop offset="0.5" stop-color="#8aa0a8"/><stop offset="1" stop-color="#e9e9b0"/></linearGradient></defs>
<rect x="661.9" y="416.7" width="5.8" height="43.1" fill="url(#cbf)"/>
<g style="font-size:10.4px;fill:#222" text-anchor="middle"><text x="665" y="412.9">55</text><text x="665" y="470.9">15</text></g>
<text x="664" y="482.2" text-anchor="middle" style="font-size:8.6px;fill:#222">BIO14(mm)</text>
<g fill="#777"><circle cx="512.7" cy="335.4" r="0.6"/><circle cx="520.6" cy="331" r="0.6"/><circle cx="525.4" cy="333.6" r="0.6"/><circle cx="514.4" cy="341.5" r="0.6"/><circle cx="542.4" cy="405.6" r="0.6"/><circle cx="551.2" cy="404.5" r="0.6"/><circle cx="560.3" cy="408.9" r="0.6"/><circle cx="544.2" cy="414.3" r="0.6"/><circle cx="543.5" cy="416.5" r="0.6"/><circle cx="513.6" cy="714.5" r="0.6"/><circle cx="522.5" cy="710" r="0.6"/><circle cx="527" cy="713.2" r="0.6"/><circle cx="513.6" cy="721" r="0.6"/><circle cx="544.7" cy="785.7" r="0.6"/><circle cx="553.6" cy="783.5" r="0.6"/><circle cx="561.7" cy="787" r="0.6"/><circle cx="545.6" cy="794.6" r="0.6"/><circle cx="543.8" cy="799" r="0.6"/></g>
</svg>
</body></html>
